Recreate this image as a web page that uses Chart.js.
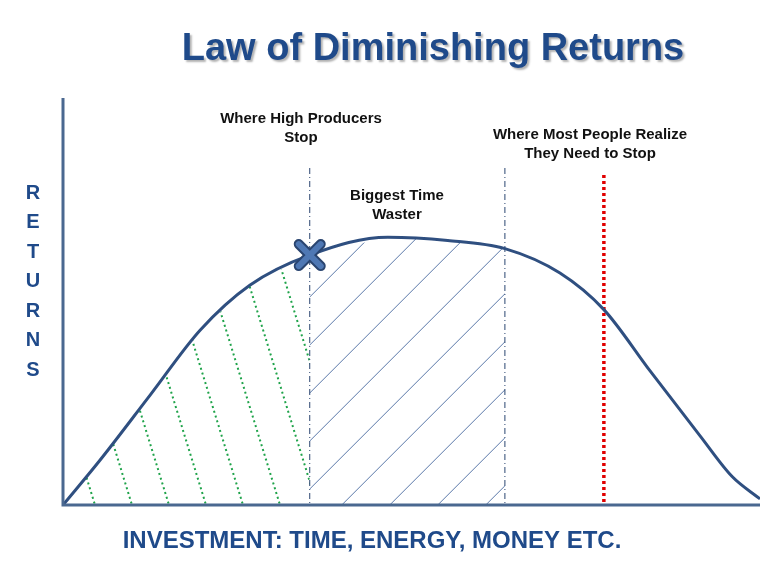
<!DOCTYPE html>
<html><head><script src="https://cdn.jsdelivr.net/npm/chart.js"></script>
<style>body{margin:0;background:#fff}#w{width:765px;height:565px}</style></head>
<body><div id="w"><canvas id="c"></canvas></div>
<script>
const xs=[0,5.3,12.5,19.7,26.8,35.4,46.6,55.2,63.4,71.3,77.6,84.2,91.4,96,100];
const ys=[0,11,27,43,54,61.4,65.8,65,63,57,48,33,17,7,1.5];
const highStop=35.4, mostStop=63.4, realize=77.6;
const labels={title:"Law of Diminishing Returns",y:"RETURNS",x:"INVESTMENT: TIME, ENERGY, MONEY ETC.",
 a:["Where High Producers","Stop"],b:["Biggest Time","Waster"],c:["Where Most People Realize","They Need to Stop"]};
const plug={id:'deco',
 beforeDatasetsDraw(ch){
  const c=ch.ctx,X=ch.scales.x,Y=ch.scales.y,m=ch.getDatasetMeta(0);
  const a=ch.chartArea;
  c.save();c.beginPath();
  m.data.forEach((p,i)=>{i?c.lineTo(p.x,p.y):c.moveTo(p.x,p.y);});
  c.lineTo(a.right,a.bottom);c.lineTo(a.left,a.bottom);c.closePath();c.clip();
  const x0=X.getPixelForValue(0),x1=X.getPixelForValue(highStop),x2=X.getPixelForValue(mostStop);
  c.save();c.beginPath();c.rect(x0,a.top,x1-x0,a.bottom-a.top);c.clip();
  c.strokeStyle='#1fa34a';c.lineWidth=2;c.setLineDash([2,3]);
  for(let s=-300;s<400;s+=37){c.beginPath();c.moveTo(x0+s,a.top+50);c.lineTo(x0+s+110,a.bottom);c.stroke();}
  c.restore();
  c.save();c.beginPath();c.rect(x1,a.top,x2-x1,a.bottom-a.top);c.clip();
  c.strokeStyle='#5a78a8';c.lineWidth=1;c.setLineDash([]);
  for(let s=-400;s<400;s+=48){c.beginPath();c.moveTo(x1+s,a.bottom);c.lineTo(x1+s+280,a.bottom-280);c.stroke();}
  c.restore();c.restore();
  c.save();c.strokeStyle='#2a4570';c.lineWidth=1;c.setLineDash([6,3,1,3]);
  [x1,x2].forEach(x=>{c.beginPath();c.moveTo(x,168);c.lineTo(x,a.bottom);c.stroke();});
  c.strokeStyle='#e00000';c.lineWidth=3.5;c.setLineDash([3,3]);
  const x3=X.getPixelForValue(realize);c.beginPath();c.moveTo(x3,175);c.lineTo(x3,a.bottom);c.stroke();
  c.restore();
 },
 afterDatasetsDraw(ch){
  const c=ch.ctx,X=ch.scales.x,Y=ch.scales.y,a=ch.chartArea;
  c.save();c.strokeStyle='#4a6890';c.lineWidth=3;
  c.beginPath();c.moveTo(a.left,a.top);c.lineTo(a.left,a.bottom);c.lineTo(a.right,a.bottom);c.stroke();
  const px=X.getPixelForValue(highStop),py=Y.getPixelForValue(61.4);
  c.lineCap='round';
  c.strokeStyle='#2a4570';c.lineWidth=10;
  c.beginPath();c.moveTo(px-11,py-11);c.lineTo(px+11,py+11);c.moveTo(px+11,py-11);c.lineTo(px-11,py+11);c.stroke();
  c.strokeStyle='#4f78b4';c.lineWidth=6;c.stroke();
  c.fillStyle='#1f4a8a';c.textAlign='center';c.textBaseline='middle';
  c.font='bold 38px "Liberation Sans",Arial';
  c.shadowColor='rgba(0,0,0,0.3)';c.shadowOffsetX=2;c.shadowOffsetY=2;c.shadowBlur=2;
  c.fillText(labels.title,433,50);c.shadowColor='transparent';
  c.font='bold 20px "Liberation Sans",Arial';c.fillStyle='#1f4a8a';
  [...labels.y].forEach((ch2,i)=>c.fillText(ch2,33,193+i*29.5));
  c.font='bold 24px "Liberation Sans",Arial';
  c.fillText(labels.x,372,541);
  c.fillStyle='#111';c.font='bold 15px "Liberation Sans",Arial';
  labels.a.forEach((t,i)=>c.fillText(t,301,119+i*19));
  labels.b.forEach((t,i)=>c.fillText(t,397,196+i*19));
  labels.c.forEach((t,i)=>c.fillText(t,590,135+i*19));
  c.restore();
 }};
new Chart(document.getElementById('c'),{type:'line',
 data:{datasets:[{data:xs.map((x,i)=>({x,y:ys[i]})),borderColor:'#2f4f80',borderWidth:3,pointRadius:0,cubicInterpolationMode:'monotone',fill:false}]},
 options:{responsive:true,maintainAspectRatio:false,animation:false,events:[],
  layout:{padding:{left:63,right:5,top:98,bottom:60}},
  plugins:{legend:{display:false},tooltip:{enabled:false}},
  scales:{x:{type:'linear',min:0,max:100,display:false},y:{min:0,max:100,display:false}}},
 plugins:[plug]});
</script></body></html>
